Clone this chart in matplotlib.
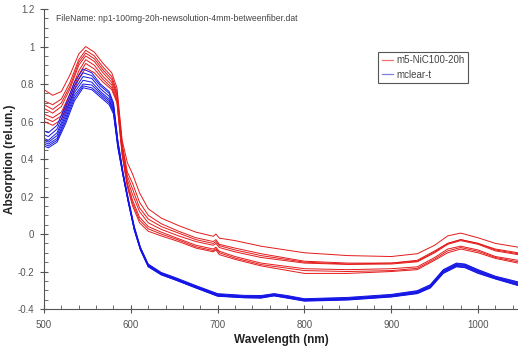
import matplotlib
matplotlib.use("Agg")
import matplotlib.pyplot as plt
from matplotlib.ticker import MultipleLocator
from matplotlib.lines import Line2D

plt.rcParams['font.family'] = ['Liberation Sans', 'DejaVu Sans']

# ---- spectra: m5-NiC100-20h (red) ----
wl_red = [500, 510, 520, 530, 540, 548, 558, 568, 578, 584, 590, 596, 602, 610,
          620, 635, 655, 675, 695, 698, 702, 720, 750, 800, 850, 900, 930, 950,
          965, 980, 1000, 1020, 1046]

red_1 = [0.77, 0.74, 0.76, 0.85, 0.96, 1.00, 0.97, 0.91, 0.86, 0.78, 0.50, 0.38, 0.32,
         0.22, 0.135, 0.085, 0.045, 0.01, -0.012, 0.0, -0.022, -0.035, -0.065, -0.10,
         -0.115, -0.12, -0.105, -0.06, -0.01, 0.005, -0.02, -0.05, -0.07]
red_2 = [0.71, 0.69, 0.72, 0.81, 0.93, 0.98, 0.95, 0.89, 0.84, 0.76, 0.48, 0.33, 0.27,
         0.17, 0.10, 0.055, 0.015, -0.02, -0.04, -0.03, -0.055, -0.075, -0.105, -0.145,
         -0.155, -0.155, -0.14, -0.09, -0.05, -0.03, -0.05, -0.08, -0.10]
red_3 = [0.69, 0.665, 0.70, 0.79, 0.915, 0.965, 0.935, 0.875, 0.825, 0.745, 0.47, 0.31,
         0.24, 0.14, 0.08, 0.04, 0.005, -0.03, -0.05, -0.04, -0.062, -0.085, -0.115,
         -0.15, -0.16, -0.155, -0.145, -0.095, -0.05, -0.03, -0.05, -0.085, -0.105]
red_4 = [0.67, 0.645, 0.68, 0.775, 0.90, 0.95, 0.92, 0.86, 0.81, 0.735, 0.46, 0.29,
         0.21, 0.12, 0.06, 0.025, -0.01, -0.04, -0.06, -0.05, -0.072, -0.095, -0.125,
         -0.155, -0.162, -0.16, -0.148, -0.10, -0.055, -0.035, -0.055, -0.09, -0.11]
red_5 = [0.64, 0.62, 0.65, 0.75, 0.87, 0.93, 0.90, 0.84, 0.795, 0.72, 0.44, 0.27,
         0.18, 0.09, 0.04, 0.01, -0.025, -0.06, -0.08, -0.07, -0.092, -0.12, -0.155,
         -0.185, -0.19, -0.185, -0.175, -0.125, -0.08, -0.065, -0.085, -0.12, -0.14]
red_6 = [0.62, 0.60, 0.63, 0.73, 0.85, 0.91, 0.88, 0.825, 0.78, 0.71, 0.43, 0.26,
         0.165, 0.075, 0.028, 0.0, -0.032, -0.068, -0.088, -0.078, -0.10, -0.128,
         -0.163, -0.195, -0.20, -0.195, -0.183, -0.133, -0.09, -0.072, -0.092, -0.125,
         -0.148]
red_7 = [0.60, 0.58, 0.61, 0.71, 0.83, 0.885, 0.86, 0.81, 0.77, 0.70, 0.42, 0.25,
         0.15, 0.06, 0.015, -0.01, -0.04, -0.075, -0.095, -0.085, -0.11, -0.135, -0.17,
         -0.21, -0.21, -0.20, -0.19, -0.14, -0.10, -0.08, -0.10, -0.13, -0.155]

# ---- spectra: mclear-t (blue) ----
wl_blue = [500, 505, 515, 525, 535, 545, 555, 565, 575, 580, 585, 591, 597, 604, 611,
           620, 635, 650, 675, 700, 730, 750, 765, 780, 800, 850, 900, 930, 945, 960,
           975, 985, 1000, 1020, 1046]

blue_1 = [0.55, 0.54, 0.58, 0.69, 0.81, 0.88, 0.86, 0.80, 0.76, 0.70, 0.50, 0.33, 0.19,
          0.04, -0.07, -0.16, -0.205, -0.23, -0.275, -0.318, -0.327, -0.328, -0.318,
          -0.328, -0.345, -0.338, -0.322, -0.302, -0.27, -0.19, -0.155, -0.16, -0.19,
          -0.225, -0.255]
blue_2 = [0.53, 0.52, 0.56, 0.67, 0.79, 0.86, 0.845, 0.79, 0.75, 0.69, 0.495, 0.325,
          0.185, 0.035, -0.073, -0.163, -0.208, -0.233, -0.278, -0.321, -0.33, -0.331,
          -0.32, -0.331, -0.348, -0.341, -0.325, -0.305, -0.273, -0.193, -0.158, -0.163,
          -0.193, -0.228, -0.258]
blue_3 = [0.51, 0.50, 0.54, 0.65, 0.77, 0.84, 0.83, 0.775, 0.735, 0.68, 0.49, 0.32,
          0.18, 0.03, -0.076, -0.166, -0.21, -0.236, -0.281, -0.324, -0.333, -0.334,
          -0.323, -0.334, -0.35, -0.344, -0.328, -0.308, -0.277, -0.197, -0.162, -0.167,
          -0.197, -0.231, -0.262]
blue_4 = [0.50, 0.49, 0.525, 0.635, 0.755, 0.82, 0.81, 0.76, 0.72, 0.67, 0.48, 0.318,
          0.178, 0.028, -0.078, -0.168, -0.212, -0.238, -0.283, -0.326, -0.335, -0.336,
          -0.325, -0.336, -0.352, -0.346, -0.33, -0.311, -0.28, -0.20, -0.165, -0.17,
          -0.20, -0.234, -0.266]
blue_5 = [0.49, 0.48, 0.51, 0.62, 0.74, 0.80, 0.795, 0.75, 0.71, 0.66, 0.475, 0.315,
          0.175, 0.025, -0.08, -0.17, -0.214, -0.24, -0.285, -0.328, -0.337, -0.338,
          -0.327, -0.338, -0.354, -0.348, -0.332, -0.313, -0.283, -0.203, -0.168, -0.173,
          -0.203, -0.236, -0.269]
blue_6 = [0.48, 0.47, 0.50, 0.605, 0.725, 0.79, 0.78, 0.74, 0.70, 0.65, 0.468, 0.312,
          0.172, 0.022, -0.083, -0.173, -0.216, -0.242, -0.287, -0.33, -0.339, -0.34,
          -0.329, -0.34, -0.356, -0.35, -0.334, -0.316, -0.286, -0.207, -0.172, -0.177,
          -0.207, -0.238, -0.272]
blue_7 = [0.47, 0.46, 0.49, 0.59, 0.71, 0.78, 0.77, 0.73, 0.69, 0.64, 0.46, 0.31, 0.17,
          0.02, -0.085, -0.175, -0.218, -0.243, -0.288, -0.332, -0.34, -0.342, -0.33,
          -0.342, -0.358, -0.352, -0.336, -0.318, -0.288, -0.21, -0.175, -0.18, -0.21,
          -0.24, -0.275]

red_series = [red_1, red_2, red_3, red_4, red_5, red_6, red_7]
blue_series = [blue_1, blue_2, blue_3, blue_4, blue_5, blue_6, blue_7]

legend_labels = ["m5-NiC100-20h", "mclear-t"]
file_label = "FileName: np1-100mg-20h-newsolution-4mm-betweenfiber.dat"
y_ticks = [-0.4, -0.2, 0, 0.2, 0.4, 0.6, 0.8, 1, 1.2]
y_tick_labels = ["-0.4", "-0.2", "0", "0.2", "0.4", "0.6", "0.8", "1", "1.2"]
x_ticks = [500, 600, 700, 800, 900, 1000]

RED = "#e41a1a"
BLUE = "#1414e6"

fig = plt.figure(figsize=(5.18, 3.48), dpi=100)
ax = fig.add_axes([0.085, 0.112, 0.915, 0.862])

for ys in red_series:
    ax.plot(wl_red, ys, color=RED, lw=0.7)
for ys in blue_series:
    ax.plot(wl_blue, ys, color=BLUE, lw=0.7)

ax.set_xlim(500, 1046)
ax.set_ylim(-0.4, 1.2)

ax.set_xticks(x_ticks)
ax.set_yticks(y_ticks)
ax.set_yticklabels(y_tick_labels)
ax.xaxis.set_minor_locator(MultipleLocator(20))
ax.yaxis.set_minor_locator(MultipleLocator(0.05))

for s in ("top", "right"):
    ax.spines[s].set_visible(False)
for s in ("left", "bottom"):
    ax.spines[s].set_color("#555555")
    ax.spines[s].set_linewidth(0.8)

ax.tick_params(which="major", direction="inout", length=6, width=0.8,
               colors="#555555", labelsize=7, labelcolor="#555555")
ax.tick_params(which="minor", direction="in", length=3, width=0.6, colors="#555555")
ax.tick_params(axis="y", which="major", pad=4)
ax.tick_params(axis="x", which="major", pad=5)

ax.set_xlabel("Wavelength (nm)", fontsize=8.5, fontweight="bold", color="#222222",
              labelpad=3)
ax.set_ylabel("Absorption (rel.un.)", fontsize=8.5, fontweight="bold",
              color="#222222", labelpad=1)

ax.text(0.025, 0.985, file_label, transform=ax.transAxes, fontsize=6.2,
        color="#444444", va="top", ha="left")

handles = [Line2D([], [], color="#f07070", lw=0.9),
           Line2D([], [], color="#8080e0", lw=0.9)]
leg = ax.legend(handles, legend_labels, loc="upper left",
                bbox_to_anchor=(0.705, 0.857), fontsize=7, frameon=True,
                fancybox=False, framealpha=1, edgecolor="#555555",
                handlelength=1.2, handletextpad=0.3, borderpad=0.35,
                labelspacing=0.45, borderaxespad=0)
leg.get_frame().set_linewidth(0.8)
for t in leg.get_texts():
    t.set_color("#444444")

fig.savefig("out.png", dpi=100)
